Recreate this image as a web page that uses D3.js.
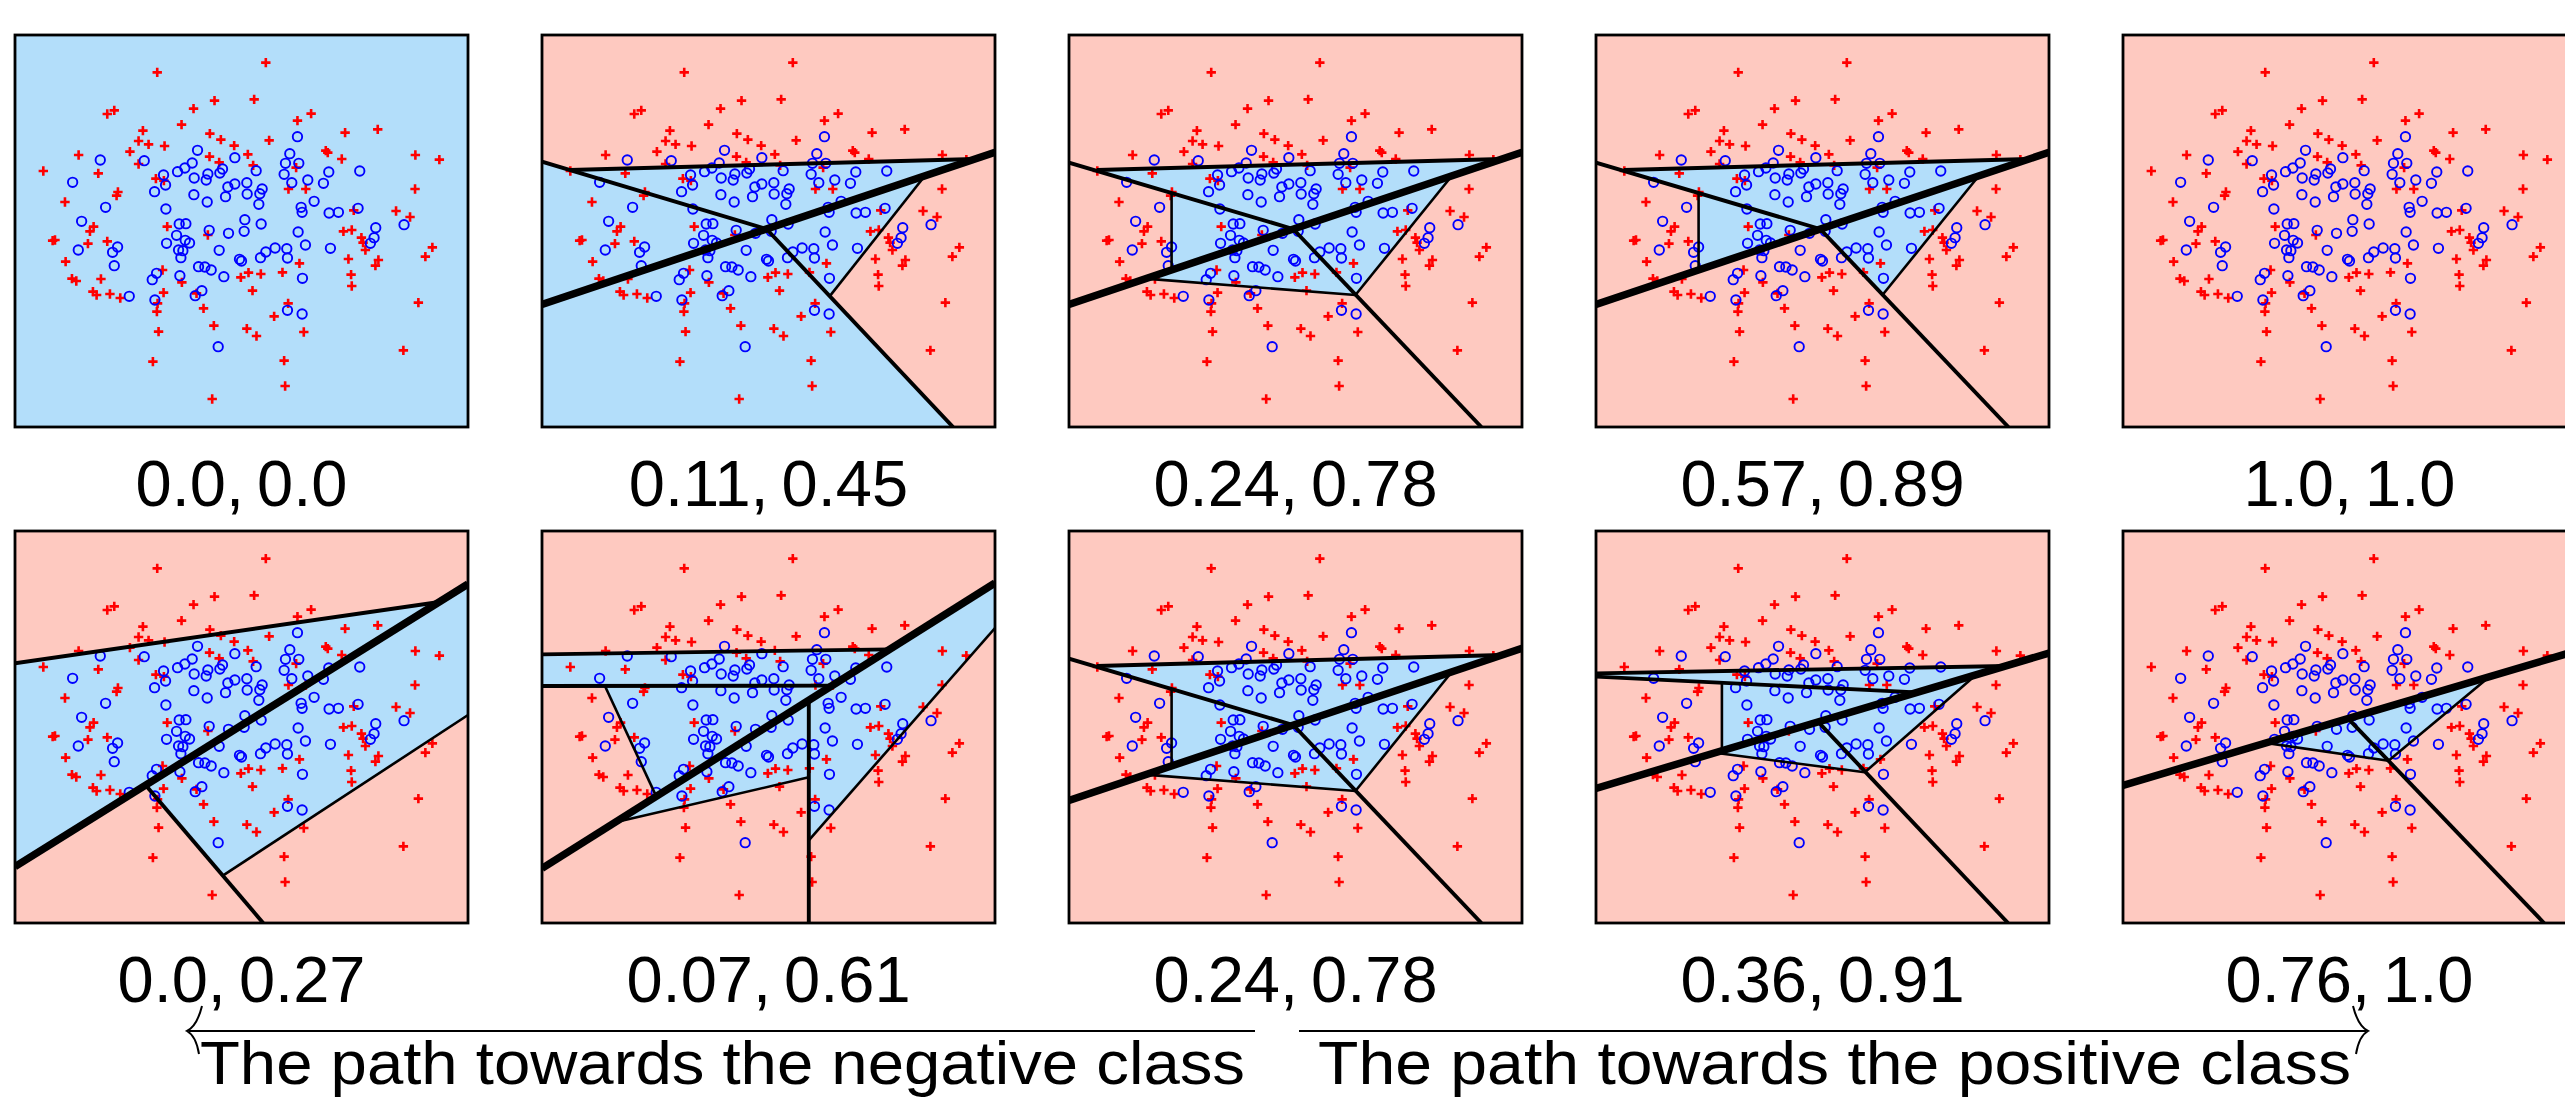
<!DOCTYPE html>
<html>
<head>
<meta charset="utf-8">
<script src="https://cdn.jsdelivr.net/npm/d3@7"></script>
<style>
  body { margin: 0; background: #fff; }
  text { font-family: "Liberation Sans", Arial, Helvetica, sans-serif; fill: #000; }
</style>
</head>
<body>
<svg id="chart"></svg>
<script>
(() => {

  // same sample in every panel
  const crosses = [
    [0.73,5.05],[-2.53,4.76],[-0.81,3.91],[0.38,3.95],[-1.44,3.67],[-4.03,3.51],[-3.82,3.62],[2.09,3.52],
    [1.68,3.31],[-1.80,3.19],[-2.96,3.01],[3.11,2.95],[4.09,3.05],[-0.95,2.92],[-0.62,2.74],[0.83,2.72],
    [-3.09,2.70],[-2.79,2.60],[-2.31,2.55],[-0.22,2.56],[-3.35,2.38],[2.53,2.41],[2.59,2.35],[-4.89,2.28],
    [0.19,2.30],[-0.96,2.23],[3.01,2.16],[5.22,2.28],[5.94,2.14],[-3.09,2.01],[-0.67,2.06],[0.35,1.97],
    [1.64,1.90],[-5.95,1.80],[-4.30,1.73],[-2.57,1.57],[-2.33,1.51],[1.41,1.26],[1.93,1.26],[-3.71,1.17],
    [-3.75,1.06],[5.21,1.26],[-5.30,0.87],[4.64,0.60],[3.37,0.62],[5.06,0.42],[-4.44,0.13],[-4.55,-0.01],
    [-2.23,0.13],[3.06,-0.01],[3.31,0.03],[-1.01,-0.12],[-5.67,-0.29],[-5.60,-0.27],[-4.61,-0.38],[-4.03,-0.31],
    [3.60,-0.20],[3.65,-0.35],[3.72,-0.57],[5.73,-0.49],[5.52,-0.77],[-5.28,-0.92],[3.21,-0.84],[4.11,-0.87],
    [4.02,-1.04],[1.74,-0.97],[-2.37,-1.17],[1.23,-1.24],[0.21,-1.25],[0.58,-1.29],[-0.02,-1.39],[3.29,-1.31],
    [-4.22,-1.44],[-5.09,-1.43],[-4.96,-1.50],[-1.79,-1.54],[3.31,-1.65],[0.33,-1.79],[-4.46,-1.82],[-4.35,-1.92],
    [-3.95,-1.89],[-3.64,-2.01],[-2.34,-1.85],[-1.35,-1.87],[-2.52,-2.17],[-2.54,-2.42],[1.40,-2.17],[5.31,-2.15],
    [-1.14,-2.32],[0.98,-2.56],[-0.83,-2.84],[0.16,-2.93],[0.45,-3.15],[1.87,-3.03],[-2.49,-3.02],[4.86,-3.58],
    [-2.66,-3.92],[1.28,-3.89],[1.31,-4.65],[-0.88,-5.04]
  ];
  const circles = [
    [1.68,2.83],[-1.32,2.42],[-4.24,2.13],[-2.92,2.11],[-0.20,2.20],[1.45,2.32],[-1.48,2.04],[-1.70,1.89],
    [-1.92,1.78],[-0.57,1.86],[-0.65,1.74],[-1.01,1.71],[-1.06,1.53],[-1.42,1.59],[-2.34,1.68],[-2.28,1.38],
    [-2.61,1.18],[0.44,1.81],[1.32,2.03],[1.72,2.03],[1.28,1.70],[1.51,1.45],[1.99,1.53],[2.62,1.77],
    [2.46,1.43],[3.55,1.80],[-5.07,1.46],[0.16,1.45],[-0.20,1.41],[-0.41,1.32],[0.62,1.26],[0.55,1.12],
    [0.17,1.11],[-0.48,1.03],[-1.43,1.09],[-1.03,0.87],[0.52,0.80],[2.18,0.89],[1.79,0.71],[1.82,0.56],
    [-4.08,0.71],[-2.27,0.66],[2.63,0.54],[2.91,0.56],[3.50,0.68],[-4.80,0.29],[0.10,0.34],[0.59,0.21],
    [-1.87,0.21],[-1.67,0.22],[-0.97,0.02],[-0.39,-0.07],[0.08,-0.01],[1.70,-0.03],[4.03,0.10],[4.88,0.19],
    [-1.95,-0.13],[-1.69,-0.28],[-1.56,-0.36],[-2.25,-0.37],[3.98,-0.20],[3.87,-0.37],[1.92,-0.42],[-3.72,-0.48],
    [-3.87,-0.64],[-4.90,-0.57],[-1.89,-0.57],[-1.76,-0.59],[-1.82,-0.80],[-0.67,-0.58],[0.73,-0.63],[1.01,-0.51],
    [1.36,-0.53],[1.38,-0.81],[0.57,-0.80],[-0.06,-0.85],[0.00,-0.90],[2.67,-0.52],[-3.82,-1.04],[-1.29,-1.07],
    [-1.10,-1.08],[-0.91,-1.17],[-0.53,-1.37],[-2.55,-1.27],[-2.68,-1.46],[-1.85,-1.34],[1.83,-1.42],[-3.37,-1.96],
    [-1.19,-1.79],[-1.39,-1.94],[-2.60,-2.07],[1.38,-2.38],[1.82,-2.49],[-0.70,-3.47]
  ];

  const panelLabels = [
    ["0.0", "0.0"], ["0.11", "0.45"], ["0.24", "0.78"], ["0.57", "0.89"], ["1.0", "1.0"],
    ["0.0", "0.27"], ["0.07", "0.61"], ["0.24", "0.78"], ["0.36", "0.91"], ["0.76", "1.0"]
  ];

  // blue decision regions, one list of polygons per panel
  const blueRegions = [
    [[[-6.8,-5.88],[6.8,-5.88],[6.8,5.88],[-6.8,5.88]]],
    [[[-6.8,2.08],[-5.96,1.83],[6.2,2.16],[4.69,1.65],[1.84,-1.955],[5.54,-5.88],[-6.8,-5.88]]],
    [[[-5.96,1.83],[6.2,2.16],[4.69,1.65],[1.8,-1.92],[-4.5,-1.43],[-3.72,-1.17],[-3.72,1.14]]],
    [[[-5.96,1.83],[6.2,2.16],[4.69,1.65],[1.8,-1.92],[-0.07,0.06],[-3.72,-1.17],[-3.72,1.14]]],
    [],
    [[[-6.8,1.91],[5.94,3.75],[6.8,4.29],[6.8,0.36],[-0.55,-4.45],[-2.85,-1.78],[-6.8,-4.19]]],
    [[[-6.8,2.18],[3.65,2.33],[1.9,1.24],[-6.8,1.23]],
     [[-4.91,1.23],[1.9,1.24],[-3.37,-2.08]],
     [[-4.6,-2.86],[1.21,0.80],[1.21,-1.51]],
     [[1.21,0.80],[6.8,4.32],[6.8,2.97],[1.21,-3.4]]],
    [[[-5.96,1.83],[6.2,2.16],[4.69,1.65],[1.8,-1.92],[-4.5,-1.43],[-3.72,-1.17],[-3.72,1.14]]],
    [[[-6.8,1.61],[5.51,1.83],[2.82,1.04],[-6.8,1.51]],
     [[-3.02,1.32],[2.82,1.04],[-3.02,-0.71]],
     [[-3.23,-0.775],[4.6,1.56],[1.27,-1.36]]],
    [[[-2.51,-0.48],[4.2,1.51],[1.17,-1.01]]]
  ];

  // hyperplane pieces: x1, y1, x2, y2, rank (0 = final split, 1 = main, 2 = minor)
  const cuts = [
    [],
    [[-6.8,2.08,-0.06,0.06,1],[-5.96,1.83,6.2,2.16,1],[-0.06,0.06,5.54,-5.88,1],[1.84,-1.955,4.69,1.65,2],[-6.8,-2.2,6.8,2.36,0]],
    [[-6.8,2.05,-0.07,0.06,1],[-5.96,1.83,6.2,2.16,1],[-0.07,0.06,5.58,-5.88,1],[1.8,-1.92,4.69,1.65,2],
     [-3.72,1.14,-3.72,-1.17,2],[-4.5,-1.43,1.8,-1.92,2],[-6.8,-2.2,6.8,2.36,0]],
    [[-6.8,2.05,-0.07,0.06,1],[-5.96,1.83,6.2,2.16,1],[-0.07,0.06,5.58,-5.88,1],[1.8,-1.92,4.69,1.65,2],
     [-3.72,1.14,-3.72,-1.17,2],[-6.8,-2.2,6.8,2.36,0]],
    [],
    [[-6.8,1.91,5.94,3.75,1],[6.8,0.36,-0.55,-4.45,2],[-2.85,-1.78,0.65,-5.88,1],[-6.8,-4.19,6.8,4.29,0]],
    [[-6.8,2.18,3.65,2.33,1],[-6.8,1.23,1.9,1.24,1],[-4.91,1.23,-3.37,-2.08,2],[-4.6,-2.86,1.21,-1.51,2],
     [1.21,0.80,1.21,-5.88,1],[1.21,-3.4,6.8,2.97,2],[-6.8,-4.24,6.8,4.32,0]],
    [[-6.8,2.05,-0.07,0.06,1],[-5.96,1.83,6.2,2.16,1],[-0.07,0.06,5.58,-5.88,1],[1.8,-1.92,4.69,1.65,2],
     [-3.72,1.14,-3.72,-1.17,2],[-4.5,-1.43,1.8,-1.92,2],[-6.8,-2.2,6.8,2.36,0]],
    [[-6.8,1.61,5.51,1.83,1],[-6.8,1.51,2.82,1.04,1],[-3.02,1.32,-3.02,-0.71,2],[-3.23,-0.775,1.27,-1.36,2],
     [1.27,-1.36,4.6,1.56,2],[-0.08,0.1,5.57,-5.88,1],[-6.8,-1.84,6.8,2.22,0]],
    [[-2.51,-0.48,1.17,-1.01,2],[1.17,-1.01,4.2,1.51,2],[-0.04,0.25,5.84,-5.88,1],[-6.8,-1.75,6.8,2.28,0]]
  ];

  const pathNames = ["The path towards the negative class", "The path towards the positive class"];

  const width = 2565, height = 1100;
  const panelW = 453, panelH = 392, stepX = 527, stepY = 496, left = 15, top = 35;
  const rankWidth = [7.5, 3.9, 2.6];

  const svg = d3.select('#chart')
    .attr('width', width)
    .attr('height', height);

  const x = d3.scaleLinear().domain([-6.8, 6.8]).range([0, panelW]);
  const y = d3.scaleLinear().domain([-5.88, 5.88]).range([panelH, 0]);
  const line = d3.line().x(d => x(d[0])).y(d => y(d[1]));

  panelLabels.forEach((lab, i) => {
    const col = i % 5, row = Math.floor(i / 5);
    const g = svg.append('g')
      .attr('transform', `translate(${left + col * stepX}, ${top + row * stepY})`);

    g.append('clipPath').attr('id', `clip${i}`)
      .append('rect').attr('width', panelW).attr('height', panelH);

    const inner = g.append('g').attr('clip-path', `url(#clip${i})`);

    inner.append('rect')
      .attr('width', panelW).attr('height', panelH)
      .attr('fill', '#fec9c0');

    inner.selectAll('path.region')
      .data(blueRegions[i])
      .enter().append('path')
      .attr('class', 'region')
      .attr('d', d => line(d) + 'Z')
      .attr('fill', '#b3defa');

    inner.selectAll('path.cross')
      .data(crosses)
      .enter().append('path')
      .attr('class', 'cross')
      .attr('d', d => `M${x(d[0]) - 4.7},${y(d[1])}h9.4M${x(d[0])},${y(d[1]) - 4.7}v9.4`)
      .attr('stroke', '#ff0000')
      .attr('stroke-width', 2.6);

    inner.selectAll('circle')
      .data(circles)
      .enter().append('circle')
      .attr('cx', d => x(d[0]))
      .attr('cy', d => y(d[1]))
      .attr('r', 4.7)
      .attr('fill', 'none')
      .attr('stroke', '#0000ff')
      .attr('stroke-width', 1.9);

    inner.selectAll('line')
      .data(cuts[i])
      .enter().append('line')
      .attr('x1', d => x(d[0])).attr('y1', d => y(d[1]))
      .attr('x2', d => x(d[2])).attr('y2', d => y(d[3]))
      .attr('stroke', '#000')
      .attr('stroke-width', d => rankWidth[d[4]]);

    g.append('rect')
      .attr('width', panelW).attr('height', panelH)
      .attr('fill', 'none')
      .attr('stroke', '#000')
      .attr('stroke-width', 2.8);

    const t = g.append('text')
      .attr('x', panelW / 2)
      .attr('y', panelH + 79)
      .attr('text-anchor', 'middle')
      .attr('font-size', 65);
    t.append('tspan').text(lab[0] + ',');
    t.append('tspan').text('\u2009' + lab[1]);
  });

  // arrows under the bottom row
  const arrows = svg.append('g')
    .attr('fill', 'none')
    .attr('stroke', '#000')
    .attr('stroke-width', 2);

  arrows.append('line').attr('x1', 189).attr('x2', 1255).attr('y1', 1031).attr('y2', 1031);
  arrows.append('path').attr('d', 'M202,1006 Q197,1026 187,1031 Q196,1036 199,1054');
  arrows.append('line').attr('x1', 1299).attr('x2', 2366).attr('y1', 1031).attr('y2', 1031);
  arrows.append('path').attr('d', 'M2353,1006 Q2358,1026 2368,1031 Q2359,1036 2356,1054');

  svg.append('text')
    .attr('x', 200).attr('y', 1084)
    .attr('font-size', 61)
    .attr('textLength', 1045)
    .attr('lengthAdjust', 'spacingAndGlyphs')
    .text(pathNames[0]);

  svg.append('text')
    .attr('x', 1318).attr('y', 1084)
    .attr('font-size', 61)
    .attr('textLength', 1033)
    .attr('lengthAdjust', 'spacingAndGlyphs')
    .text(pathNames[1]);

})();
</script>
</body>
</html>
